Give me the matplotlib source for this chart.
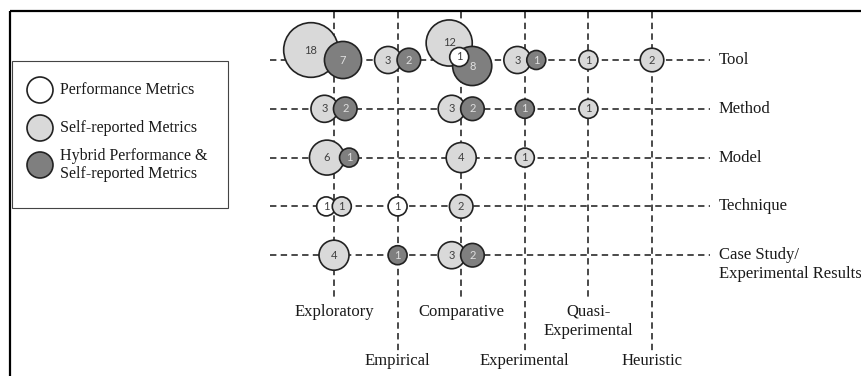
import matplotlib
matplotlib.use('Agg')
import matplotlib.pyplot as plt
from matplotlib.patches import Circle, Rectangle

# --- datos ---
rows = ['Tool', 'Method', 'Model', 'Technique', 'Case Study/\nExperimental Results']
cols = ['Exploratory', 'Empirical', 'Comparative', 'Experimental', 'Quasi-\nExperimental', 'Heuristic']

# conteos por fila (filas) y tipo de estudio (columnas), 0 = sin burbuja
performance = [
    [0, 0, 1, 0, 0, 0],
    [0, 0, 0, 0, 0, 0],
    [0, 0, 0, 0, 0, 0],
    [1, 1, 0, 0, 0, 0],
    [0, 0, 0, 0, 0, 0],
]
self_reported = [
    [18, 3, 12, 3, 1, 2],
    [3, 0, 3, 0, 1, 0],
    [6, 0, 4, 1, 0, 0],
    [1, 0, 2, 0, 0, 0],
    [4, 0, 3, 0, 0, 0],
]
hybrid = [
    [7, 2, 8, 1, 0, 0],
    [2, 0, 2, 1, 0, 0],
    [1, 0, 0, 0, 0, 0],
    [0, 0, 0, 0, 0, 0],
    [0, 1, 2, 0, 0, 0],
]
legend_labels = ['Performance Metrics', 'Self-reported Metrics',
                 'Hybrid Performance &\nSelf-reported Metrics']

# --- estilo / layout (pixeles) ---
W, H = 862, 376
COL_X0, COL_DX = 334, 63.6
ROW_Y0, ROW_DY = 60, 48.8
LINE_PX = 19
SERIF = 'Liberation Serif'
FILL = {'perf': 'white', 'self': '#d9d9d9', 'hyb': '#7f7f7f'}
NUM_COLOR = {'perf': '#404040', 'self': '#404040', 'hyb': '#e0e0e0'}
EDGE = '#222222'
DASH = (0, (4, 2.7))

# celdas con acomodo manual (offsets relativos al cruce, en orden de dibujo)
CELL_LAYOUT = {
    (0, 0): [('self', -23, -10), ('hyb', 9, 0)],
    (0, 2): [('self', -12, -17), ('hyb', 11, 6), ('perf', -2, -3)],
}


def radius(n):
    return 4 + 5.5 * n ** 0.5


col_x = [COL_X0 + i * COL_DX for i in range(len(cols))]
row_y = [ROW_Y0 + j * ROW_DY for j in range(len(rows))]

fig = plt.figure(figsize=(W / 100, H / 100), dpi=100)
ax = fig.add_axes([0, 0, 1, 1])
ax.set_xlim(0, W)
ax.set_ylim(H, 0)
ax.axis('off')

# marco
ax.plot([10, W], [11, 11], color='black', lw=1.6, solid_capstyle='butt')
ax.plot([10, 10], [11, H], color='black', lw=1.6, solid_capstyle='butt')

# lineas guia
for i, x in enumerate(col_x):
    y_end = 352 if i % 2 else 298
    ax.plot([x, x], [12, y_end], color=EDGE, lw=1.15, ls=DASH, zorder=1)
    n = cols[i].count('\n') + 1
    y_lab = (361 if i % 2 else 312) + (n - 1) * LINE_PX / 2
    ax.text(x, y_lab, cols[i], ha='center', va='center', fontsize=12,
            family=SERIF, color='#1a1a1a', linespacing=1.25)

for j, y in enumerate(row_y):
    ax.plot([270, 710], [y, y], color=EDGE, lw=1.15, ls=DASH, zorder=1)
    n = rows[j].count('\n') + 1
    ax.text(719, y + (n - 1) * LINE_PX / 2, rows[j], ha='left', va='center',
            fontsize=12, family=SERIF, color='#1a1a1a', linespacing=1.25)


def draw_bubble(kind, n, x, y, z):
    ax.add_patch(Circle((x, y), radius(n), facecolor=FILL[kind], edgecolor=EDGE,
                        lw=1.2, zorder=z))
    ax.text(x, y, str(n), ha='center', va='center', fontsize=8, family='Lato',
            color=NUM_COLOR[kind], zorder=z + 0.5)


z = 3
for j in range(len(rows)):
    for i in range(len(cols)):
        vals = {'perf': performance[j][i], 'self': self_reported[j][i], 'hyb': hybrid[j][i]}
        cx, cy = col_x[i], row_y[j]
        if (j, i) in CELL_LAYOUT:
            for kind, dx, dy in CELL_LAYOUT[(j, i)]:
                draw_bubble(kind, vals[kind], cx + dx, cy + dy, z)
                z += 1
            continue
        items = [(k, vals[k]) for k in ('perf', 'self', 'hyb') if vals[k] > 0]
        if not items:
            continue
        # cadena horizontal con ligero traslape, centrada en el cruce
        xs = [0.0]
        for a, b in zip(items[:-1], items[1:]):
            xs.append(xs[-1] + 0.82 * (radius(a[1]) + radius(b[1])))
        left = xs[0] - radius(items[0][1])
        right = xs[-1] + radius(items[-1][1])
        shift = cx - (left + right) / 2
        for (kind, n), x in zip(items, xs):
            draw_bubble(kind, n, x + shift, cy, z)
            z += 1

# leyenda
ax.add_patch(Rectangle((12, 61), 216, 147, facecolor='white', edgecolor='#444444',
                       lw=0.8, zorder=2))
for k, (kind, y) in enumerate(zip(('perf', 'self', 'hyb'), (90, 128, 165))):
    ax.add_patch(Circle((40, y), 13, facecolor=FILL[kind], edgecolor=EDGE, lw=1.2, zorder=3))
    ax.text(60, y, legend_labels[k], ha='left', va='center', fontsize=11.5,
            family=SERIF, color='#1a1a1a', linespacing=1.15, zorder=3)

fig.savefig('out.png', dpi=100)
plt.close(fig)
